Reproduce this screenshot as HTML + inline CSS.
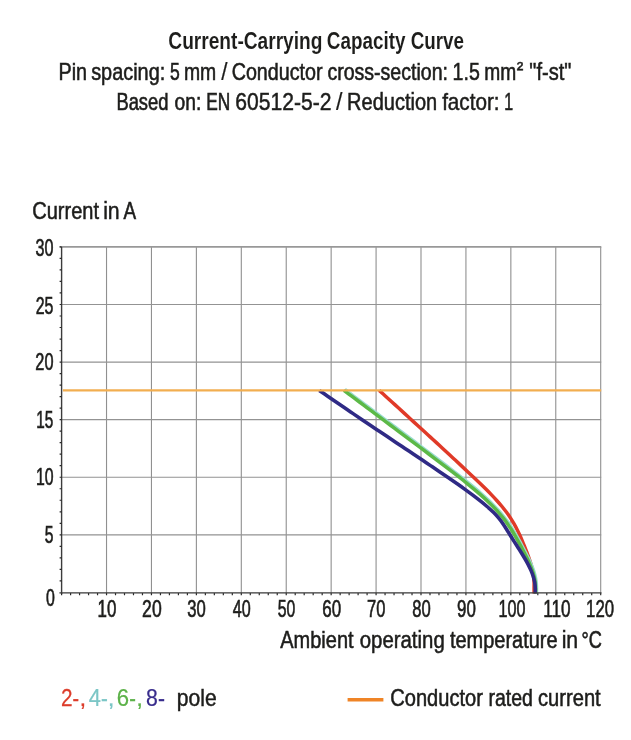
<!DOCTYPE html>
<html lang="en"><head><meta charset="utf-8"><title>Current-Carrying Capacity Curve</title>
<style>
html,body{margin:0;padding:0;background:#fff;}
body{width:631px;height:740px;overflow:hidden;}
svg{display:block;}
text{font-family:"Liberation Sans",sans-serif;font-size:23.2px;fill:#1d1d1b;stroke:#1d1d1b;stroke-width:0.5px;vector-effect:non-scaling-stroke;}
text.b{font-weight:bold;stroke:#fff;stroke-width:0.06px;}
</style></head><body>
<svg width="631" height="740" viewBox="0 0 631 740">
<rect width="631" height="740" fill="#fff"/>
<path d="M106.53 246.90V593.00M151.45 246.90V593.00M196.38 246.90V593.00M241.30 246.90V593.00M286.23 246.90V593.00M331.15 246.90V593.00M376.08 246.90V593.00M421.00 246.90V593.00M465.93 246.90V593.00M510.85 246.90V593.00M555.77 246.90V593.00M600.70 246.90V593.00" stroke="#909090" stroke-width="1.1" fill="none"/>
<path d="M61.60 534.82H601.20M61.60 477.23H601.20M61.60 419.65H601.20M61.60 362.07H601.20M61.60 304.48H601.20" stroke="#939393" stroke-width="1.15" fill="none"/>
<path d="M59.60 246.90H601.30" stroke="#989898" stroke-width="1.6" fill="none"/>
<path d="M61.60 246.90V593.90" stroke="#3c3c3c" stroke-width="1.4" fill="none"/>
<path d="M61.60 593.00V595.30M70.59 593.00V595.30M79.57 593.00V595.30M88.56 593.00V595.30M97.54 593.00V595.30M106.53 593.00V595.30M115.51 593.00V595.30M124.50 593.00V595.30M133.48 593.00V595.30M142.47 593.00V595.30M151.45 593.00V595.30M160.44 593.00V595.30M169.42 593.00V595.30M178.41 593.00V595.30M187.39 593.00V595.30M196.38 593.00V595.30M205.36 593.00V595.30M214.34 593.00V595.30M223.33 593.00V595.30M232.31 593.00V595.30M241.30 593.00V595.30M250.28 593.00V595.30M259.27 593.00V595.30M268.26 593.00V595.30M277.24 593.00V595.30M286.23 593.00V595.30M295.21 593.00V595.30M304.19 593.00V595.30M313.18 593.00V595.30M322.17 593.00V595.30M331.15 593.00V595.30M340.14 593.00V595.30M349.12 593.00V595.30M358.11 593.00V595.30M367.09 593.00V595.30M376.08 593.00V595.30M385.06 593.00V595.30M394.05 593.00V595.30M403.03 593.00V595.30M412.02 593.00V595.30M421.00 593.00V595.30M429.99 593.00V595.30M438.97 593.00V595.30M447.95 593.00V595.30M456.94 593.00V595.30M465.93 593.00V595.30M474.91 593.00V595.30M483.90 593.00V595.30M492.88 593.00V595.30M501.87 593.00V595.30M510.85 593.00V595.30M519.84 593.00V595.30M528.82 593.00V595.30M537.81 593.00V595.30M546.79 593.00V595.30M555.77 593.00V595.30M564.76 593.00V595.30M573.75 593.00V595.30M582.73 593.00V595.30M591.72 593.00V595.30M600.70 593.00V595.30M59.60 580.88H61.60M59.60 569.37H61.60M59.60 557.85H61.60M59.60 546.33H61.60M59.60 534.82H61.60M59.60 523.30H61.60M59.60 511.78H61.60M59.60 500.27H61.60M59.60 488.75H61.60M59.60 477.23H61.60M59.60 465.72H61.60M59.60 454.20H61.60M59.60 442.68H61.60M59.60 431.17H61.60M59.60 419.65H61.60M59.60 408.13H61.60M59.60 396.62H61.60M59.60 385.10H61.60M59.60 373.58H61.60M59.60 362.07H61.60M59.60 350.55H61.60M59.60 339.03H61.60M59.60 327.52H61.60M59.60 316.00H61.60M59.60 304.48H61.60M59.60 292.97H61.60M59.60 281.45H61.60M59.60 269.93H61.60M59.60 258.42H61.60M59.60 246.90H61.60" stroke="#2a2a2a" stroke-width="1.2" fill="none"/>
<path d="M379.20 390.40C380.26 391.37 383.44 394.27 385.56 396.21C387.69 398.14 389.81 400.08 391.93 402.01C394.06 403.95 396.18 405.88 398.31 407.82C400.43 409.75 402.55 411.69 404.68 413.62C406.80 415.56 408.92 417.49 411.04 419.43C413.16 421.36 415.28 423.30 417.40 425.23C419.52 427.17 421.64 429.10 423.75 431.04C425.87 432.98 427.98 434.91 430.09 436.85C432.20 438.78 434.30 440.72 436.41 442.65C438.51 444.59 440.61 446.52 442.71 448.46C444.81 450.39 446.90 452.33 448.99 454.26C451.08 456.20 453.16 458.13 455.24 460.07C457.33 462.00 459.40 463.94 461.47 465.87C463.54 467.81 465.61 469.74 467.67 471.68C469.73 473.62 471.79 475.55 473.83 477.49C475.87 479.42 477.90 481.36 479.91 483.29C481.91 485.23 483.90 487.16 485.84 489.10C487.78 491.03 489.70 492.97 491.56 494.90C493.42 496.84 495.24 498.77 496.99 500.71C498.73 502.64 500.41 504.58 502.00 506.51C503.60 508.45 505.12 510.38 506.55 512.32C507.98 514.26 509.32 516.19 510.58 518.13C511.83 520.06 512.99 522.00 514.09 523.93C515.19 525.87 516.21 527.80 517.19 529.74C518.16 531.67 519.07 533.61 519.95 535.54C520.83 537.48 521.66 539.41 522.47 541.35C523.29 543.28 524.06 545.22 524.84 547.15C525.61 549.09 526.39 551.02 527.12 552.96C527.85 554.90 528.58 556.83 529.24 558.77C529.90 560.70 530.52 562.64 531.06 564.57C531.61 566.51 532.11 568.44 532.52 570.38C532.93 572.31 533.29 574.25 533.55 576.18C533.81 578.12 534.00 580.05 534.09 581.99C534.18 583.92 534.09 585.86 534.09 587.79C534.09 589.73 534.09 592.63 534.09 593.60" stroke="#e03a28" stroke-width="3.5" fill="none" stroke-linejoin="round"/>
<path d="M344.90 389.40C346.19 390.37 350.07 393.27 352.66 395.21C355.25 397.14 357.84 399.08 360.42 401.01C363.01 402.95 365.60 404.88 368.19 406.82C370.78 408.75 373.36 410.69 375.95 412.62C378.54 414.56 381.13 416.49 383.71 418.43C386.30 420.36 388.88 422.30 391.47 424.23C394.05 426.17 396.63 428.10 399.21 430.04C401.80 431.98 404.38 433.91 406.95 435.85C409.53 437.78 412.11 439.72 414.68 441.65C417.26 443.59 419.83 445.52 422.40 447.46C424.97 449.39 427.54 451.33 430.10 453.26C432.67 455.20 435.23 457.13 437.79 459.07C440.35 461.00 442.91 462.94 445.45 464.87C448.00 466.81 450.55 468.74 453.07 470.68C455.58 472.62 458.09 474.55 460.56 476.49C463.03 478.42 465.48 480.36 467.87 482.29C470.27 484.23 472.63 486.16 474.94 488.10C477.24 490.03 479.50 491.97 481.69 493.90C483.87 495.84 486.01 497.77 488.06 499.71C490.11 501.64 492.10 503.58 493.99 505.51C495.89 507.45 497.71 509.38 499.42 511.32C501.13 513.26 502.75 515.19 504.28 517.13C505.81 519.06 507.23 521.00 508.59 522.93C509.96 524.87 511.23 526.80 512.46 528.74C513.69 530.67 514.84 532.61 515.98 534.54C517.11 536.48 518.18 538.41 519.25 540.35C520.31 542.28 521.34 544.22 522.37 546.15C523.39 548.09 524.42 550.02 525.42 551.96C526.42 553.90 527.41 555.83 528.34 557.77C529.27 559.70 530.18 561.64 531.00 563.57C531.83 565.51 532.60 567.44 533.28 569.38C533.95 571.31 534.56 573.25 535.05 575.18C535.54 577.12 535.94 579.05 536.20 580.99C536.46 582.92 536.55 584.86 536.62 586.79C536.69 588.73 536.62 591.63 536.62 592.60" stroke="#9adcd0" stroke-width="3.2" fill="none" stroke-linejoin="round"/>
<path d="M343.90 390.40C345.19 391.37 349.07 394.27 351.66 396.21C354.25 398.14 356.84 400.08 359.42 402.01C362.01 403.95 364.60 405.88 367.19 407.82C369.78 409.75 372.36 411.69 374.95 413.62C377.54 415.56 380.13 417.49 382.71 419.43C385.30 421.36 387.88 423.30 390.47 425.23C393.05 427.17 395.63 429.10 398.21 431.04C400.80 432.98 403.38 434.91 405.95 436.85C408.53 438.78 411.11 440.72 413.68 442.65C416.26 444.59 418.83 446.52 421.40 448.46C423.97 450.39 426.54 452.33 429.10 454.26C431.67 456.20 434.23 458.13 436.79 460.07C439.35 462.00 441.91 463.94 444.45 465.87C447.00 467.81 449.55 469.74 452.07 471.68C454.58 473.62 457.09 475.55 459.56 477.49C462.03 479.42 464.48 481.36 466.87 483.29C469.27 485.23 471.63 487.16 473.94 489.10C476.24 491.03 478.50 492.97 480.69 494.90C482.87 496.84 485.01 498.77 487.06 500.71C489.11 502.64 491.10 504.58 492.99 506.51C494.89 508.45 496.71 510.38 498.42 512.32C500.13 514.26 501.75 516.19 503.28 518.13C504.81 520.06 506.23 522.00 507.59 523.93C508.96 525.87 510.23 527.80 511.46 529.74C512.69 531.67 513.84 533.61 514.98 535.54C516.11 537.48 517.18 539.41 518.25 541.35C519.31 543.28 520.34 545.22 521.37 547.15C522.39 549.09 523.42 551.02 524.42 552.96C525.42 554.90 526.41 556.83 527.34 558.77C528.27 560.70 529.18 562.64 530.00 564.57C530.83 566.51 531.60 568.44 532.28 570.38C532.95 572.31 533.56 574.25 534.05 576.18C534.54 578.12 534.94 580.05 535.20 581.99C535.46 583.92 535.55 585.86 535.62 587.79C535.69 589.73 535.62 592.63 535.62 593.60" stroke="#5cb947" stroke-width="3.5" fill="none" stroke-linejoin="round"/>
<path d="M319.30 390.40C320.70 391.37 324.86 394.27 327.66 396.21C330.46 398.14 333.27 400.08 336.09 402.01C338.91 403.95 341.74 405.88 344.57 407.82C347.41 409.75 350.26 411.69 353.11 413.62C355.96 415.56 358.82 417.49 361.69 419.43C364.56 421.36 367.43 423.30 370.31 425.23C373.18 427.17 376.07 429.10 378.95 431.04C381.83 432.98 384.72 434.91 387.61 436.85C390.50 438.78 393.39 440.72 396.28 442.65C399.18 444.59 402.07 446.52 404.96 448.46C407.85 450.39 410.74 452.33 413.63 454.26C416.52 456.20 419.41 458.13 422.29 460.07C425.17 462.00 428.05 463.94 430.93 465.87C433.80 467.81 436.68 469.74 439.53 471.68C442.39 473.62 445.25 475.55 448.06 477.49C450.88 479.42 453.69 481.36 456.45 483.29C459.20 485.23 461.94 487.16 464.61 489.10C467.28 491.03 469.91 492.97 472.47 494.90C475.04 496.84 477.55 498.77 479.97 500.71C482.40 502.64 484.79 504.58 487.03 506.51C489.27 508.45 491.46 510.38 493.42 512.32C495.37 514.26 497.15 516.19 498.76 518.13C500.38 520.06 501.75 522.00 503.10 523.93C504.44 525.87 505.62 527.80 506.83 529.74C508.04 531.67 509.17 533.61 510.38 535.54C511.58 537.48 512.81 539.41 514.05 541.35C515.28 543.28 516.55 545.22 517.79 547.15C519.02 549.09 520.27 551.02 521.47 552.96C522.67 554.90 523.86 556.83 524.98 558.77C526.10 560.70 527.19 562.64 528.19 564.57C529.19 566.51 530.13 568.44 530.96 570.38C531.79 572.31 532.54 574.25 533.15 576.18C533.77 578.12 534.28 580.05 534.63 581.99C534.98 583.92 535.15 585.86 535.25 587.79C535.36 589.73 535.25 592.63 535.25 593.60" stroke="#2f2a85" stroke-width="3.6" fill="none" stroke-linejoin="round"/>
<path d="M59.40 592.90H601.50" stroke="#383838" stroke-width="1.4" fill="none"/>
<path d="M62.90 390.40H601.20" stroke="#f2ae50" stroke-width="2.3" fill="none"/>
<text transform="translate(168.33 49.00) scale(0.8252 1)" class="b">Current-Carrying</text>
<text transform="translate(326.85 49.00) scale(0.8129 1)" class="b">Capacity</text>
<text transform="translate(410.65 49.00) scale(0.8105 1)" class="b">Curve</text>
<text transform="translate(58.48 79.90) scale(0.8514 1)" style="stroke-width:0.52px">Pin</text>
<text transform="translate(91.16 79.90) scale(0.8583 1)" style="stroke-width:0.51px">spacing:</text>
<text transform="translate(170.08 79.90) scale(0.7568 1)" style="stroke-width:0.56px">5</text>
<text transform="translate(183.91 79.90) scale(0.8357 1)" style="stroke-width:0.54px">mm</text>
<text transform="translate(221.30 79.90) scale(0.9718 1)" style="stroke-width:0.20px">/</text>
<text transform="translate(231.68 79.90) scale(0.8495 1)" style="stroke-width:0.52px">Conductor</text>
<text transform="translate(327.39 79.90) scale(0.8433 1)" style="stroke-width:0.53px">cross-section:</text>
<text transform="translate(452.60 79.90) scale(0.8442 1)" style="stroke-width:0.53px">1.5</text>
<text transform="translate(484.33 79.90) scale(0.8270 1)" style="stroke-width:0.55px">mm</text>
<text transform="translate(516.87 75.12) scale(0.8435 0.8593)" style="stroke-width:0.53px">²</text>
<text transform="translate(529.25 79.90) scale(0.8663 1)">"f-st"</text>
<text transform="translate(116.41 109.90) scale(0.7922 1)" style="stroke-width:0.56px">Based</text>
<text transform="translate(174.50 109.90) scale(0.8297 1)" style="stroke-width:0.55px">on:</text>
<text transform="translate(206.30 109.90) scale(0.7443 1)" style="stroke-width:0.56px">EN</text>
<text transform="translate(235.37 109.90) scale(0.9099 1)" style="stroke-width:0.45px">60512-5-2</text>
<text transform="translate(336.10 109.90) scale(1.0031 1)" style="stroke-width:0.20px">/</text>
<text transform="translate(347.05 109.90) scale(0.8630 1)">Reduction</text>
<text transform="translate(442.13 109.90) scale(0.8915 1)" style="stroke-width:0.47px">factor:</text>
<text transform="translate(504.29 109.90) scale(0.6856 1)" style="stroke-width:0.56px">1</text>
<text transform="translate(32.25 218.80) scale(0.8646 1)">Current</text>
<text transform="translate(103.14 218.80) scale(0.9187 1)" style="stroke-width:0.45px">in</text>
<text transform="translate(123.49 218.80) scale(0.8124 1)" style="stroke-width:0.56px">A</text>
<text transform="translate(35.53 255.60) scale(0.6972 1)" style="stroke-width:0.56px">30</text>
<text transform="translate(35.68 313.50) scale(0.6863 1)" style="stroke-width:0.56px">25</text>
<text transform="translate(35.36 370.20) scale(0.7040 1)" style="stroke-width:0.56px">20</text>
<text transform="translate(36.33 428.00) scale(0.6602 1)" style="stroke-width:0.56px">15</text>
<text transform="translate(35.89 484.50) scale(0.6828 1)" style="stroke-width:0.56px">10</text>
<text transform="translate(44.75 542.50) scale(0.6751 1)" style="stroke-width:0.56px">5</text>
<text transform="translate(46.05 605.70) scale(0.6842 1)" style="stroke-width:0.56px">0</text>
<text transform="translate(97.61 616.80) scale(0.7302 1)" style="stroke-width:0.56px">10</text>
<text transform="translate(142.10 616.80) scale(0.7586 1)" style="stroke-width:0.56px">20</text>
<text transform="translate(187.21 616.80) scale(0.7180 1)" style="stroke-width:0.56px">30</text>
<text transform="translate(232.68 616.80) scale(0.6954 1)" style="stroke-width:0.56px">40</text>
<text transform="translate(277.75 616.80) scale(0.6805 1)" style="stroke-width:0.56px">50</text>
<text transform="translate(322.33 616.80) scale(0.7334 1)" style="stroke-width:0.56px">60</text>
<text transform="translate(366.95 616.80) scale(0.7124 1)" style="stroke-width:0.56px">70</text>
<text transform="translate(412.13 616.80) scale(0.7173 1)" style="stroke-width:0.56px">80</text>
<text transform="translate(457.12 616.80) scale(0.7298 1)" style="stroke-width:0.56px">90</text>
<text transform="translate(498.47 616.80) scale(0.6969 1)" style="stroke-width:0.56px">100</text>
<text transform="translate(543.29 616.80) scale(0.7409 1)" style="stroke-width:0.56px">110</text>
<text transform="translate(586.12 616.80) scale(0.7218 1)" style="stroke-width:0.56px">120</text>
<text transform="translate(280.25 647.80) scale(0.8620 1)">Ambient</text>
<text transform="translate(359.73 647.80) scale(0.8791 1)" style="stroke-width:0.49px">operating</text>
<text transform="translate(449.96 647.80) scale(0.8604 1)" style="stroke-width:0.51px">temperature</text>
<text transform="translate(561.64 647.80) scale(0.9187 1)" style="stroke-width:0.45px">in</text>
<text transform="translate(581.39 647.80) scale(0.7835 1)" style="stroke-width:0.56px">°C</text>
<text transform="translate(61.09 705.70) scale(0.8954 1)" style="fill:#dc3c2a;stroke:#dc3c2a;stroke-width:0.25px">2</text>
<text transform="translate(72.38 705.70) scale(0.8427 1)" style="fill:#dc3c2a;stroke:#dc3c2a;stroke-width:0.31px">-</text>
<text transform="translate(79.61 705.70) scale(1.0413 1)" style="fill:#dc3c2a;stroke:#dc3c2a;stroke-width:0.21px">,</text>
<text transform="translate(88.75 705.70) scale(0.9397 1)" style="fill:#7cc6c6;stroke:#7cc6c6;stroke-width:0.20px">4</text>
<text transform="translate(101.02 705.70) scale(0.8831 1)" style="fill:#7cc6c6;stroke:#7cc6c6;stroke-width:0.28px">-</text>
<text transform="translate(107.76 705.70) scale(1.0413 1)" style="fill:#7cc6c6;stroke:#7cc6c6;stroke-width:0.21px">,</text>
<text transform="translate(116.79 705.70) scale(0.9558 1)" style="fill:#5db24a;stroke:#5db24a;stroke-width:0.20px">6</text>
<text transform="translate(129.35 705.70) scale(0.8618 1)" style="fill:#5db24a;stroke:#5db24a;stroke-width:0.30px">-</text>
<text transform="translate(136.26 705.70) scale(1.0413 1)" style="fill:#5db24a;stroke:#5db24a;stroke-width:0.21px">,</text>
<text transform="translate(146.06 705.70) scale(0.9147 1)" style="fill:#382c8c;stroke:#382c8c;stroke-width:0.23px">8</text>
<text transform="translate(158.09 705.70) scale(0.9044 1)" style="fill:#382c8c;stroke:#382c8c;stroke-width:0.26px">-</text>
<text transform="translate(176.86 705.70) scale(0.9092 1)" style="stroke-width:0.45px">pole</text>
<text transform="translate(390.25 705.70) scale(0.8658 1)">Conductor</text>
<text transform="translate(488.40 705.70) scale(0.8413 1)" style="stroke-width:0.53px">rated</text>
<text transform="translate(538.05 705.70) scale(0.8677 1)">current</text>
<path d="M347.6 699.8H383.4" stroke="#ef8426" stroke-width="3.6" fill="none"/>
</svg>
</body></html>
